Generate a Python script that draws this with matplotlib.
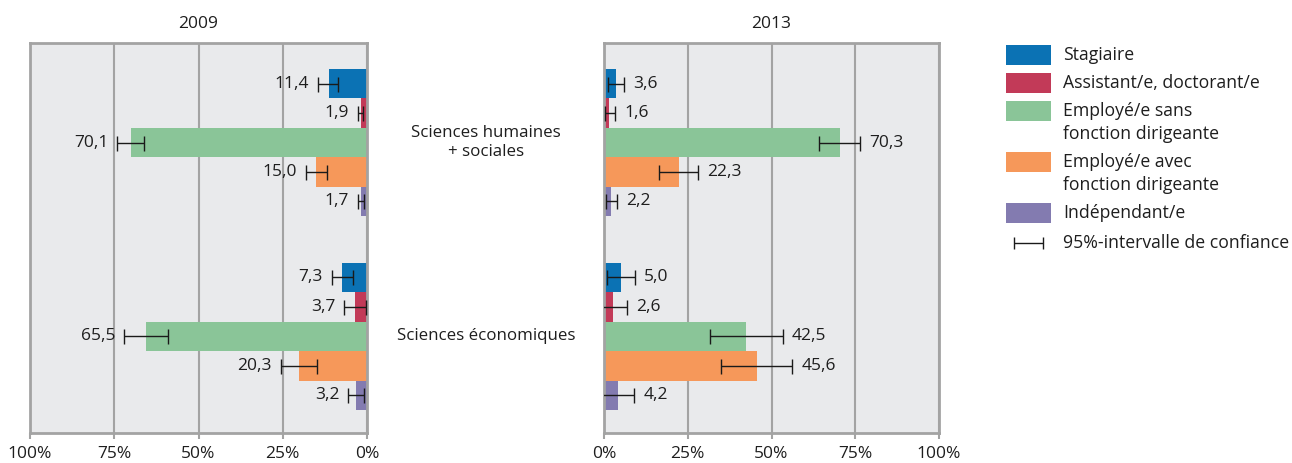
import numpy as np
import matplotlib.pyplot as plt
import matplotlib as mpl
from matplotlib.transforms import blended_transform_factory

mpl.rcParams['font.family'] = ['Open Sans', 'DejaVu Sans']

# Data (percentages, 95% confidence interval bounds)
categories = ["Stagiaire", "Assistant/e, doctorant/e", "Employé/e sans\nfonction dirigeante",
              "Employé/e avec\nfonction dirigeante", "Indépendant/e"]
groups = ["Sciences humaines\n+ sociales", "Sciences économiques"]
years = ["2009", "2013"]

val_2009_hum = [11.4, 1.9, 70.1, 15.0, 1.7]
lo_2009_hum = [8.6, 1.1, 66.1, 11.8, 0.8]
hi_2009_hum = [14.5, 2.8, 74.1, 18.2, 2.8]
val_2009_eco = [7.3, 3.7, 65.5, 20.3, 3.2]
lo_2009_eco = [4.1, 0.4, 59.0, 14.7, 0.9]
hi_2009_eco = [10.5, 6.7, 72.0, 25.5, 5.5]

val_2013_hum = [3.6, 1.6, 70.3, 22.3, 2.2]
lo_2013_hum = [1.3, 0.3, 64.2, 16.5, 0.5]
hi_2013_hum = [6.0, 3.3, 76.4, 28.0, 3.8]
val_2013_eco = [5.0, 2.6, 42.5, 45.6, 4.2]
lo_2013_eco = [0.8, -1.5, 31.6, 34.9, -0.8]
hi_2013_eco = [9.3, 7.0, 53.3, 56.2, 9.0]

xticks = [0, 25, 50, 75, 100]
xticklabels = ["0%", "25%", "50%", "75%", "100%"]

colours = ['#0b72b4', '#c23a58', '#8ac598', '#f6985a', '#837bb0']
bg = '#e9eaec'
gridc = '#a3a3a3'
txt = '#1e1e1e'
fs = 12.5

panels = {
    "2009": [(val_2009_hum, lo_2009_hum, hi_2009_hum), (val_2009_eco, lo_2009_eco, hi_2009_eco)],
    "2013": [(val_2013_hum, lo_2013_hum, hi_2013_hum), (val_2013_eco, lo_2013_eco, hi_2013_eco)],
}
group_offsets = [0, 6.58]

W, H = 1292, 463
fig = plt.figure(figsize=(W / 100, H / 100), dpi=100)
ax_l = fig.add_axes([30 / W, 1 - 433 / H, 337 / W, 390 / H])
ax_r = fig.add_axes([604 / W, 1 - 433 / H, 335 / W, 390 / H])

for ax, year in zip([ax_l, ax_r], years):
    left = ax is ax_l
    ax.set_facecolor(bg)
    for off, (vals, lo, hi) in zip(group_offsets, panels[year]):
        y = off + np.arange(len(vals))
        vals = np.array(vals)
        lo = np.array(lo)
        hi = np.array(hi)
        ax.barh(y, vals, height=1.0, color=colours, zorder=2)
        ax.errorbar(vals, y, xerr=[vals - lo, hi - vals], fmt='none', ecolor='#1a1a1a',
                    elinewidth=1.0, capsize=5.4, capthick=1.0, zorder=3)
        for v, h, yy in zip(vals, hi, y):
            ax.annotate(f"{v:.1f}".replace('.', ','), (h, yy),
                        xytext=(-6.5 if left else 6.5, 0), textcoords='offset points',
                        ha='right' if left else 'left', va='center',
                        fontsize=fs, color=txt, zorder=4)
    ax.set_ylim(11.86, -1.38)
    if left:
        ax.set_xlim(100, 0)
    else:
        ax.set_xlim(0, 100)
    ax.set_yticks([])
    ax.set_xticks(xticks)
    ax.set_xticklabels(xticklabels, fontsize=fs, color=txt)
    ax.tick_params(axis='x', length=4, width=1.5, color=gridc, pad=5.5)
    ax.grid(axis='x', color=gridc, linewidth=1.5, zorder=1)
    ax.set_axisbelow(True)
    for s in ax.spines.values():
        s.set_color(gridc)
        s.set_linewidth(2)
    ax.set_title(year, fontsize=fs, color=txt, pad=11)

# Group labels between panels
tr = blended_transform_factory(fig.transFigure, ax_r.transData)
for off, g in zip(group_offsets, groups):
    fig.text(486 / W, off + 2, g, transform=tr, ha='center', va='center',
             fontsize=12.2, color=txt, linespacing=1.3)

# Legend (drawn manually so patches align with the first line of each label)
lax = fig.add_axes([0, 0, 1, 1])
lax.set_xlim(0, W)
lax.set_ylim(H, 0)
lax.axis('off')
y = 55
line_h = 23
for c, lab in zip(colours, categories):
    lax.add_patch(mpl.patches.Rectangle((1006, y - 10), 45, 20, color=c, lw=0))
    for k, line in enumerate(lab.split('\n')):
        lax.text(1063, y + k * line_h, line, ha='left', va='center', fontsize=12.7, color=txt)
    y += 28 + line_h * (lab.count('\n'))
y += 2
lax.errorbar([1028.5], [y], xerr=[[14.5], [14.5]], fmt='none', ecolor='#1a1a1a',
             elinewidth=1.0, capsize=4.5, capthick=1.0)
lax.text(1063, y, "95%-intervalle de confiance", ha='left', va='center', fontsize=12.7, color=txt)

fig.savefig('out.png', dpi=100)
